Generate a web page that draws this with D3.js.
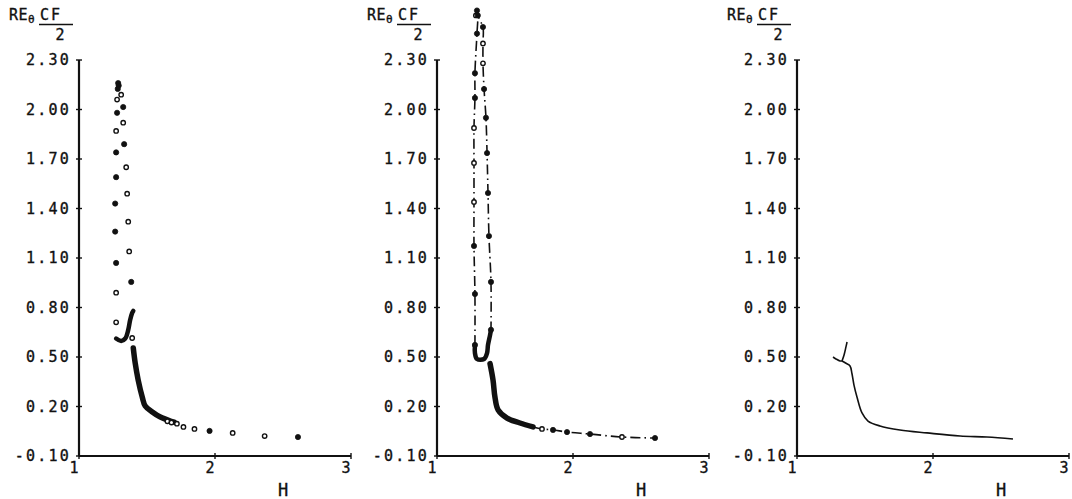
<!DOCTYPE html>
<html>
<head>
<meta charset="utf-8">
<script src="https://cdn.jsdelivr.net/npm/d3@7"></script>
<style>
  body { margin: 0; background: #fff; }
  svg { display: block; }
  text { font-family: "DejaVu Sans Mono", monospace; fill: #111; stroke: #111; stroke-width: 0.35px; }
</style>
</head>
<body>
<svg id="chart" width="1072" height="499"></svg>
<script>
// Valores: H no eixo x, RE_θ·CF/2 no eixo y.
const Y_TICKS = [-0.10, 0.20, 0.50, 0.80, 1.10, 1.40, 1.70, 2.00, 2.30];
const X_TICKS = [1, 2, 3];

// Painel 1 — pontos esparsos (cheios e vazados) + trechos densos
const P1_FILLED = [
  [1.288, 2.16], [1.292, 2.145], [1.285, 2.125], [1.325, 2.015], [1.28, 1.98],
  [1.332, 1.79], [1.273, 1.74], [1.273, 1.59], [1.266, 1.43], [1.266, 1.26],
  [1.273, 1.07], [1.384, 0.955], [1.96, 0.052], [2.61, 0.015]
];
const P1_OPEN = [
  [1.31, 2.09], [1.28, 2.06], [1.325, 1.92], [1.273, 1.87], [1.347, 1.65],
  [1.354, 1.49], [1.362, 1.32], [1.369, 1.14], [1.273, 0.89], [1.273, 0.71],
  [1.391, 0.615], [1.65, 0.11], [1.68, 0.103], [1.72, 0.096], [1.768, 0.076],
  [1.849, 0.064], [2.13, 0.04], [2.365, 0.021]
];
const P1_HOOK = [
  [1.273, 0.612], [1.31, 0.597], [1.34, 0.612], [1.362, 0.664],
  [1.376, 0.724], [1.391, 0.767], [1.399, 0.779]
];
const P1_CURVE = [
  [1.399, 0.555], [1.413, 0.464], [1.435, 0.361], [1.465, 0.258], [1.487, 0.203],
  [1.539, 0.167], [1.598, 0.136], [1.672, 0.112], [1.70, 0.105]
];

// Painel 2 — laço traço-ponto com marcadores, "U" denso, curva densa e cauda
const P2_LOOP = [
  [1.279, 0.573], [1.279, 0.882], [1.272, 1.173], [1.272, 1.44], [1.272, 1.676],
  [1.272, 1.888], [1.279, 2.07], [1.279, 2.22], [1.294, 2.46], [1.30, 2.57],
  [1.294, 2.60], [1.31, 2.55], [1.338, 2.50], [1.338, 2.40], [1.338, 2.28],
  [1.346, 2.124], [1.36, 1.95], [1.368, 1.736], [1.375, 1.494], [1.382, 1.233],
  [1.397, 0.955], [1.397, 0.665]
];
const P2_FILLED = [
  [1.294, 2.60], [1.30, 2.57], [1.294, 2.46], [1.279, 2.22], [1.279, 2.07],
  [1.272, 1.173], [1.279, 0.882], [1.279, 0.573], [1.338, 2.50], [1.346, 2.124],
  [1.36, 1.95], [1.368, 1.736], [1.375, 1.494], [1.382, 1.233], [1.397, 0.955],
  [1.397, 0.665], [1.853, 0.058], [1.956, 0.045], [2.125, 0.033], [2.603, 0.009]
];
const P2_OPEN = [
  [1.286, 2.57], [1.272, 1.888], [1.272, 1.676], [1.272, 1.44], [1.338, 2.40],
  [1.338, 2.28], [1.772, 0.064], [2.36, 0.015]
];
const P2_U = [
  [1.279, 0.573], [1.279, 0.524], [1.294, 0.488], [1.346, 0.488],
  [1.368, 0.524], [1.375, 0.573], [1.39, 0.633], [1.397, 0.665]
];
const P2_CURVE = [
  [1.39, 0.46], [1.412, 0.36], [1.426, 0.258], [1.449, 0.18], [1.515, 0.13],
  [1.61, 0.10], [1.706, 0.076]
];
const P2_TAIL = [
  [1.706, 0.076], [1.772, 0.064], [1.853, 0.058], [1.956, 0.045],
  [2.125, 0.033], [2.36, 0.015], [2.603, 0.009]
];

// Painel 3 — linha contínua
const P3_HOOK = [[1.368, 0.591], [1.36, 0.561], [1.346, 0.512], [1.331, 0.476]];
const P3_CURL = [[1.265, 0.50], [1.287, 0.488], [1.316, 0.476], [1.331, 0.476]];
const P3_CURVE = [
  [1.331, 0.476], [1.36, 0.462], [1.39, 0.446], [1.404, 0.40], [1.419, 0.33],
  [1.441, 0.258], [1.478, 0.161], [1.522, 0.112], [1.61, 0.082], [1.757, 0.058],
  [1.956, 0.04], [2.199, 0.021], [2.397, 0.015], [2.588, 0.003]
];

const svg = d3.select("#chart");
const TOP = 60, PH = 396, PW = 272;
const ORIGINS = [79, 437, 797];

const x = d3.scaleLinear().domain([1, 3]).range([0, PW]);
const y = d3.scaleLinear().domain([-0.1, 2.3]).range([PH, 0]);
const lineC = d3.line().x((d) => x(d[0])).y((d) => y(d[1])).curve(d3.curveCatmullRom.alpha(0.5));

function drawAxes(g) {
  // Eixo y com ticks cruzados e rótulos à esquerda
  g.append("line").attr("x1", 0).attr("x2", 0).attr("y1", y(2.3)).attr("y2", y(-0.1))
    .attr("stroke", "#111").attr("stroke-width", 2.2);
  g.append("line").attr("x1", 0).attr("x2", x(3)).attr("y1", y(-0.1)).attr("y2", y(-0.1))
    .attr("stroke", "#111").attr("stroke-width", 2.2);
  Y_TICKS.forEach((t) => {
    g.append("line").attr("x1", -3).attr("x2", 3).attr("y1", y(t)).attr("y2", y(t))
      .attr("stroke", "#111").attr("stroke-width", 1.4);
    g.append("text").attr("x", -8).attr("y", y(t)).attr("dy", "0.36em")
      .attr("text-anchor", "end").style("font-size", "15px").style("letter-spacing", "2.2px")
      .text(t.toFixed(2));
  });
  X_TICKS.forEach((t) => {
    g.append("line").attr("x1", x(t)).attr("x2", x(t)).attr("y1", y(-0.1) - 3).attr("y2", y(-0.1) + 3)
      .attr("stroke", "#111").attr("stroke-width", 1.4);
    g.append("text").attr("x", x(t) - 5).attr("y", y(-0.1) + 17)
      .attr("text-anchor", "middle").style("font-size", "15px").text(t);
  });
  g.append("text").attr("x", x(2.5)).attr("y", y(-0.1) + 40)
    .attr("text-anchor", "middle").style("font-size", "17px").text("H");

  // Rótulo do eixo y: RE_θ CF/2
  const lab = g.append("g").attr("transform", `translate(0,${-TOP})`);
  lab.append("text").attr("x", -70).attr("y", 20).style("font-size", "15px").style("letter-spacing", "0.5px").text("RE");
  lab.append("text").attr("x", -51).attr("y", 23).style("font-size", "11px").text("θ");
  lab.append("text").attr("x", -39).attr("y", 20).style("font-size", "15px").style("letter-spacing", "2px").text("CF");
  lab.append("line").attr("x1", -40).attr("x2", -6).attr("y1", 24.5).attr("y2", 24.5)
    .attr("stroke", "#111").attr("stroke-width", 1.3);
  lab.append("text").attr("x", -19).attr("y", 40).attr("text-anchor", "middle").style("font-size", "15px").text("2");
}

function markers(g, pts, filled) {
  g.selectAll(null).data(pts).enter().append("circle")
    .attr("cx", (d) => x(d[0])).attr("cy", (d) => y(d[1]))
    .attr("r", filled ? 2.6 : 2.2)
    .attr("fill", filled ? "#111" : "#fff")
    .attr("stroke", "#111").attr("stroke-width", filled ? 0.8 : 1.4);
}

function thick(g, pts, w) {
  g.append("path").datum(pts).attr("d", lineC).attr("fill", "none")
    .attr("stroke", "#111").attr("stroke-width", w)
    .attr("stroke-linecap", "round").attr("stroke-linejoin", "round");
}

const panels = ORIGINS.map((ox) => svg.append("g").attr("transform", `translate(${ox},${TOP})`));
panels.forEach(drawAxes);

// Painel 1
thick(panels[0], P1_HOOK, 4.5);
thick(panels[0], P1_CURVE, 5.5);
markers(panels[0], P1_OPEN, false);
markers(panels[0], P1_FILLED, true);

// Painel 2
[P2_LOOP, P2_TAIL].forEach((pts) => {
  panels[1].append("path").datum(pts).attr("d", lineC).attr("fill", "none")
    .attr("stroke", "#111").attr("stroke-width", 1.6).attr("stroke-dasharray", "10,4,1.6,4");
});
thick(panels[1], P2_U, 4.5);
thick(panels[1], P2_CURVE, 5.5);
markers(panels[1], P2_OPEN, false);
markers(panels[1], P2_FILLED, true);

// Painel 3
[P3_HOOK, P3_CURL, P3_CURVE].forEach((pts) => {
  panels[2].append("path").datum(pts).attr("d", lineC).attr("fill", "none")
    .attr("stroke", "#111").attr("stroke-width", 1.6).attr("stroke-linejoin", "round");
});
</script>
</body>
</html>
